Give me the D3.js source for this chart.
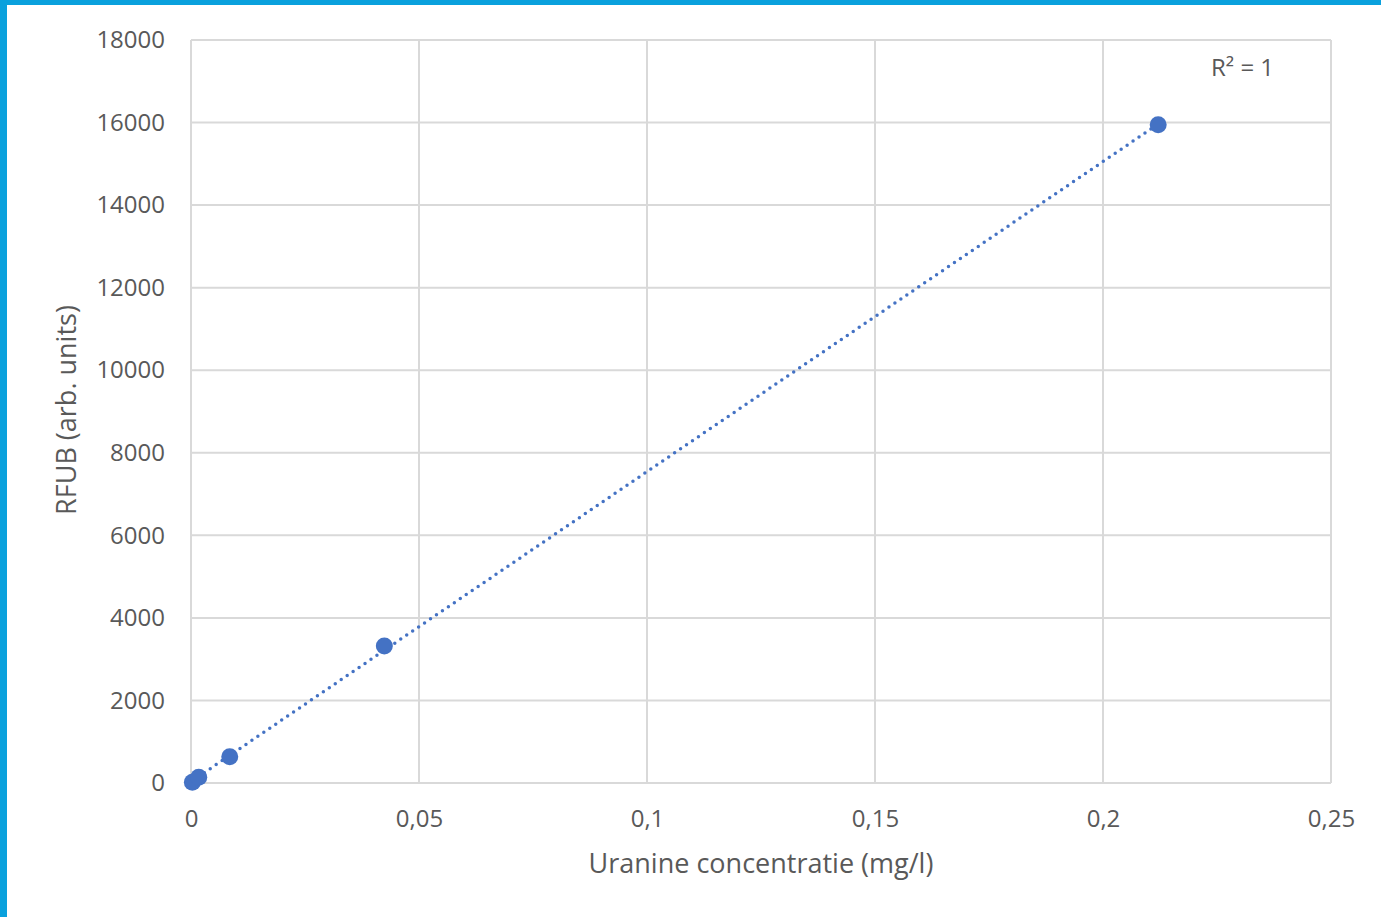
<!DOCTYPE html>
<html>
<head>
<meta charset="utf-8">
<script src="https://cdn.jsdelivr.net/npm/d3@7"></script>
<style>
  html, body { margin: 0; padding: 0; background: #fff; }
  svg { display: block; }
  text { font-family: "Open Sans", "Noto Sans", sans-serif; fill: #595959; }
</style>
</head>
<body>
<svg id="chart" width="1381" height="917"></svg>
<script>
// Uranine calibration: concentration (mg/l) vs fluorescence (RFUB)
const concentration = [0.0003, 0.0017, 0.0085, 0.0424, 0.2121];
const rfub = [20, 140, 635, 3320, 15945];
const xTicks = [0, 0.05, 0.1, 0.15, 0.2, 0.25];
const yTicks = [0, 2000, 4000, 6000, 8000, 10000, 12000, 14000, 16000, 18000];
const xTitle = "Uranine concentratie (mg/l)";
const yTitle = "RFUB (arb. units)";

const W = 1381, H = 917;
const plot = { left: 191, right: 1331, top: 40, bottom: 783 };
const svg = d3.select("#chart");

// frame accent
svg.append("rect").attr("x", 0).attr("y", 0).attr("width", W).attr("height", 5).attr("fill", "#0aa1dd");
svg.append("rect").attr("x", 0).attr("y", 0).attr("width", 7).attr("height", H).attr("fill", "#0aa1dd");

const x = d3.scaleLinear().domain([0, 0.25]).range([plot.left, plot.right]);
const y = d3.scaleLinear().domain([0, 18000]).range([plot.bottom, plot.top]);

const fmt = d => String(d).replace(".", ",");

// gridlines
const g = svg.append("g");
g.selectAll("line.h").data(yTicks).join("line")
  .attr("x1", plot.left).attr("x2", plot.right)
  .attr("y1", d => y(d)).attr("y2", d => y(d))
  .attr("stroke", "#d9d9d9").attr("stroke-width", 2);
g.selectAll("line.v").data(xTicks).join("line")
  .attr("y1", plot.top).attr("y2", plot.bottom)
  .attr("x1", d => x(d)).attr("x2", d => x(d))
  .attr("stroke", "#d9d9d9").attr("stroke-width", 2);

// axes (labels only)
const yAxis = svg.append("g").attr("transform", `translate(${plot.left},0)`)
  .call(d3.axisLeft(y).tickValues(yTicks).tickSize(0).tickPadding(26).tickFormat(d => d));
const xAxis = svg.append("g").attr("transform", `translate(0,${plot.bottom})`)
  .call(d3.axisBottom(x).tickValues(xTicks).tickSize(0).tickPadding(27).tickFormat(fmt));
[yAxis, xAxis].forEach(a => {
  a.select(".domain").remove();
  a.selectAll("text").style("font-size", "24px").attr("fill", "#595959")
    .style("font-family", "'Open Sans', sans-serif");
});

// linear trendline (least squares)
const n = concentration.length;
const mx = d3.mean(concentration), my = d3.mean(rfub);
let sxy = 0, sxx = 0;
for (let i = 0; i < n; i++) {
  sxy += (concentration[i] - mx) * (rfub[i] - my);
  sxx += (concentration[i] - mx) ** 2;
}
const slope = sxy / sxx, intercept = my - slope * mx;
const x0 = d3.min(concentration), x1 = d3.max(concentration);
svg.append("line")
  .attr("x1", x(x0)).attr("y1", y(intercept + slope * x0))
  .attr("x2", x(x1)).attr("y2", y(intercept + slope * x1))
  .attr("stroke", "#4472c4").attr("stroke-width", 3.5)
  .attr("stroke-linecap", "round").attr("stroke-dasharray", "0,7.2");

// data points
svg.append("g").selectAll("circle").data(concentration).join("circle")
  .attr("cx", d => x(d)).attr("cy", (d, i) => y(rfub[i]))
  .attr("r", 8.5).attr("fill", "#4472c4");

// R² annotation
svg.append("text").attr("x", 1211).attr("y", 76).style("font-size", "24px")
  .text("R² = 1");

// axis titles
svg.append("text").attr("x", 761).attr("y", 873).attr("text-anchor", "middle")
  .style("font-size", "27px").text(xTitle);
svg.append("text").attr("transform", `translate(76,410) rotate(-90)`)
  .attr("text-anchor", "middle").style("font-size", "27px").text(yTitle);
</script>
</body>
</html>
